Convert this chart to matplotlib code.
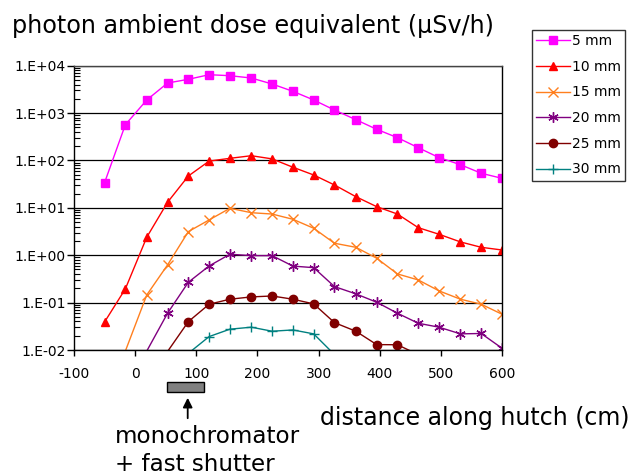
import numpy as np
import matplotlib
matplotlib.use("Agg")
import matplotlib.pyplot as plt
from matplotlib.ticker import FixedLocator, LogLocator, NullFormatter
from matplotlib.patches import Rectangle, FancyArrowPatch

nan = np.nan
distance = [-50, -16, 19, 53, 87, 121, 155, 190, 224, 258, 292, 326, 361, 395,
            429, 463, 497, 532, 566, 600]
dose_5mm = [34, 569, 1890, 4310, 5160, 6460, 6150, 5500, 4110, 2880, 1890, 1160,
            726, 455, 303, 186, 115, 81.5, 53.7, 42]
dose_10mm = [0.039, 0.195, 2.4, 13.1, 47, 97, 111, 126, 108, 72, 49.4, 30.4,
             17.2, 10.6, 7.4, 3.82, 2.77, 1.91, 1.47, 1.29]
dose_15mm = [nan, 0.0095, 0.145, 0.624, 3.15, 5.56, 9.8, 7.9, 7.4, 5.74, 3.71,
             1.79, 1.47, 0.865, 0.403, 0.301, 0.177, 0.118, 0.0925, 0.0569]
dose_20mm = [nan, nan, 0.0095, 0.0597, 0.269, 0.594, 1.05, 0.98, 0.98, 0.59,
             0.547, 0.218, 0.153, 0.102, 0.0597, 0.0367, 0.0303, 0.0219, 0.0223,
             0.0109]
dose_25mm = [nan, nan, nan, 0.0093, 0.0397, 0.0925, 0.118, 0.132, 0.138, 0.118,
             0.094, 0.0378, 0.0249, 0.013, 0.0129, 0.008, nan, nan, nan, nan]
dose_30mm = [nan, nan, nan, nan, 0.0085, 0.0192, 0.0275, 0.0303, 0.0249,
             0.0265, 0.0219, 0.008, nan, nan, nan, nan, nan, nan, nan, nan]

series_labels = ["5 mm", "10 mm", "15 mm", "20 mm", "25 mm", "30 mm"]
series_values = [dose_5mm, dose_10mm, dose_15mm, dose_20mm, dose_25mm, dose_30mm]
colors = ["#FF00FF", "#FF0000", "#FF7F1E", "#800080", "#800000", "#008080"]
markers = ["s", "^", "x", (6, 2, 0), "o", "+"]
msizes = [5.5, 6, 7, 7.5, 6, 7]

ytick_vals = [1e-2, 1e-1, 1e0, 1e1, 1e2, 1e3, 1e4]
ytick_labels = ["1.E-02", "1.E-01", "1.E+00", "1.E+01", "1.E+02", "1.E+03", "1.E+04"]
xtick_vals = [-100, 0, 100, 200, 300, 400, 500, 600]
xtick_labels = ["-100", "0", "100", "200", "300", "400", "500", "600"]

plt.rcParams['font.family'] = ['DejaVu Sans']

W, H = 629, 475
fig = plt.figure(figsize=(W / 100, H / 100), dpi=100)
ax = fig.add_axes([74 / W, 1 - 350 / H, 428 / W, (350 - 65.7) / H])

ymin = ytick_vals[0]
for vals, lab, c, m, ms in zip(series_values, series_labels, colors, markers, msizes):
    arr = np.array(vals, dtype=float)
    idx = [i for i, v in enumerate(arr) if np.isfinite(v) and v >= ymin]
    ax.plot(distance, arr, color=c, lw=1.0, marker=m, markersize=ms,
            markevery=idx, markerfacecolor=c, markeredgecolor=c,
            markeredgewidth=1.0, label=lab)

ax.set_yscale("log")
ax.set_ylim(ytick_vals[0], ytick_vals[-1])
ax.set_xlim(xtick_vals[0], xtick_vals[-1])
ax.yaxis.set_major_locator(FixedLocator(ytick_vals))
ax.set_yticklabels(ytick_labels)
ax.yaxis.set_minor_locator(LogLocator(base=10, subs=np.arange(2, 10)))
ax.yaxis.set_minor_formatter(NullFormatter())
ax.set_xticks(xtick_vals)
ax.set_xticklabels(xtick_labels)

ax.grid(axis="y", which="major", color="black", lw=0.9)
ax.set_axisbelow(True)
for s in ax.spines.values():
    s.set_color("black")
    s.set_linewidth(1.0)
ax.spines["top"].set_color("#444444")

ax.tick_params(axis="y", which="major", direction="out", length=5, width=1,
               labelsize=10, pad=1)
ax.tick_params(axis="y", which="minor", direction="in", length=4, width=0.8)
ax.tick_params(axis="x", which="major", direction="out", length=4, width=1,
               labelsize=10, pad=8)

leg = fig.legend(loc="upper left", bbox_to_anchor=(532 / W, 1 - 30 / H),
                 frameon=True, fancybox=False, edgecolor="black",
                 fontsize=10, handlelength=2.4, handletextpad=0.2,
                 labelspacing=0.84, borderpad=0.3, borderaxespad=0)
leg.get_frame().set_linewidth(1.0)

fig.text(12 / W, 1 - 33 / H, "photon ambient dose equivalent (\u03bcSv/h)",
         fontsize=17.2, ha="left", va="baseline")
fig.text(320 / W, 1 - 425 / H, "distance along hutch (cm)",
         fontsize=17, ha="left", va="baseline")
fig.text(115 / W, 1 - 443 / H, "monochromator", fontsize=16.6,
         ha="left", va="baseline")
fig.text(115 / W, 1 - 471 / H, "+ fast shutter", fontsize=16.6,
         ha="left", va="baseline")

rect = Rectangle((166.7 / W, 1 - 391.7 / H), 37.6 / W, 9.4 / H,
                 transform=fig.transFigure, facecolor="#808080",
                 edgecolor="black", lw=1.0)
fig.patches.append(rect)
arrow = FancyArrowPatch((187.7 / W, 1 - 421 / H), (187.7 / W, 1 - 395 / H),
                        transform=fig.transFigure, arrowstyle="-|>",
                        mutation_scale=14, color="black", lw=1.3)
fig.patches.append(arrow)

fig.savefig("out.png", dpi=100)
